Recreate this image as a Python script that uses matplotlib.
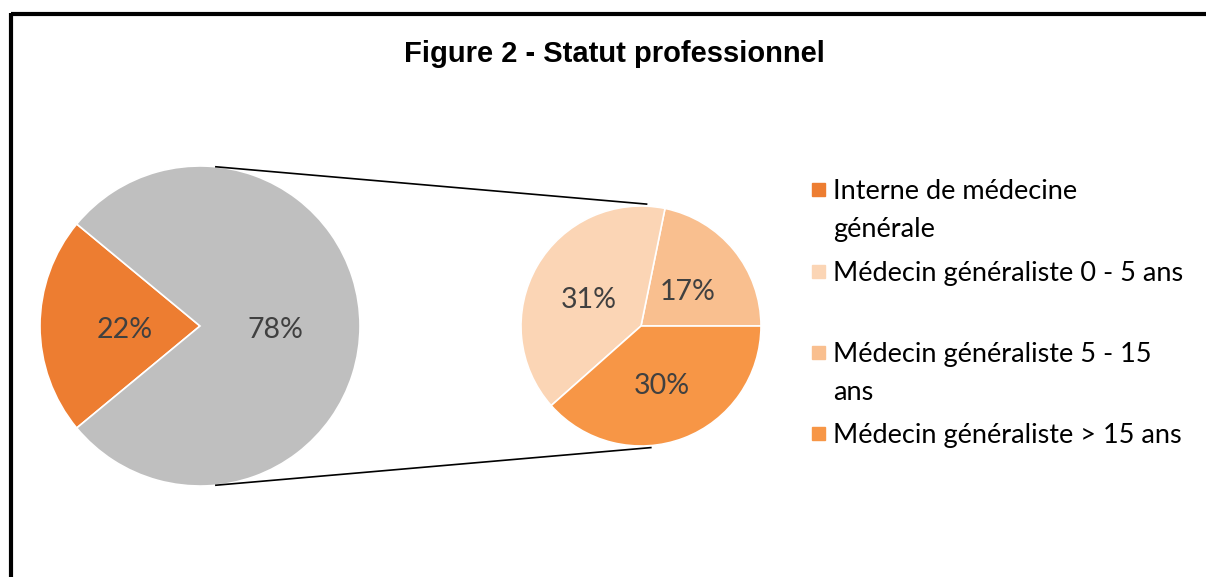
import numpy as np
import matplotlib.pyplot as plt
from matplotlib.patches import Rectangle

# data
main_labels = ['Interne de médecine générale', 'Médecins généralistes']
main_values = [22, 78]
sub_labels = ['Médecin généraliste 5 - 15 ans', 'Médecin généraliste 0 - 5 ans',
              'Médecin généraliste > 15 ans']
sub_values = [17, 31, 30]
legend_labels = ['Interne de médecine\ngénérale', 'Médecin généraliste 0 - 5 ans',
                 'Médecin généraliste 5 - 15\nans', 'Médecin généraliste > 15 ans']

c_interne = '#ED7D31'
c_gray = '#BFBFBF'
c_05 = '#FBD5B5'
c_515 = '#F9BF8F'
c_15 = '#F79646'
txt = '#404040'

W, H = 1206, 577
fig = plt.figure(figsize=(W / 100, H / 100), dpi=100)
ax = fig.add_axes([0, 0, 1, 1])
ax.set_xlim(0, W)
ax.set_ylim(0, H)
ax.set_aspect('equal')
ax.axis('off')

lc = (200, H - 326)
lr = 160
rc = (641, H - 326)
rr = 120

tprops = dict(fontsize=20.5, color=txt, family='Lato')

_, _, at1 = ax.pie(main_values, colors=[c_interne, c_gray], center=lc, radius=lr,
                   startangle=180 - 0.5 * main_values[0] * 3.6, counterclock=True,
                   autopct='%.0f%%', pctdistance=0.47, textprops=tprops,
                   wedgeprops=dict(edgecolor='white', linewidth=1.2), frame=True)

tot = sum(sub_values)
_, _, at2 = ax.pie(sub_values, colors=[c_515, c_05, c_15], center=rc, radius=rr,
                   startangle=0, counterclock=True,
                   autopct=lambda p: '%.0f%%' % (p * tot / 100), pctdistance=0.5,
                   textprops=tprops,
                   wedgeprops=dict(edgecolor='white', linewidth=1.2), frame=True)
for t in list(at1) + list(at2):
    x, y = t.get_position()
    t.set_position((x, y - 4))
ax.set_xlim(0, W)
ax.set_ylim(0, H)
ax.axis('off')

# connector lines between the two pies
for a_l, a_r in [(84.6, 87.0), (-84.6, -85.0)]:
    x1 = lc[0] + lr * np.cos(np.radians(a_l))
    y1 = lc[1] + lr * np.sin(np.radians(a_l))
    x2 = rc[0] + (rr + 2) * np.cos(np.radians(a_r))
    y2 = rc[1] + (rr + 2) * np.sin(np.radians(a_r))
    ax.plot([x1, x2], [y1, y2], color='black', lw=1.2, solid_capstyle='butt')

# legend
leg_colors = [c_interne, c_05, c_515, c_15]
leg_y = [189, 271, 352, 433]
for lab, col, y in zip(legend_labels, leg_colors, leg_y):
    ax.add_patch(Rectangle((812, H - y - 6.5), 13, 13, color=col))
    ax.text(833, H - y + 10, lab, ha='left', va='top', fontsize=19.5,
            family='Lato', color='black', linespacing=1.65)

# title
ax.text(614, H - 62, 'Figure 2 - Statut professionnel', ha='center', va='baseline',
        fontsize=21, fontweight='bold', family='Liberation Sans', color='black')

# border (top and left)
ax.plot([10.5, W], [H - 14, H - 14], color='black', lw=3, solid_capstyle='butt')
ax.plot([10.5, 10.5], [0, H - 12.5], color='black', lw=3, solid_capstyle='butt')

fig.savefig('out.png', dpi=100)
